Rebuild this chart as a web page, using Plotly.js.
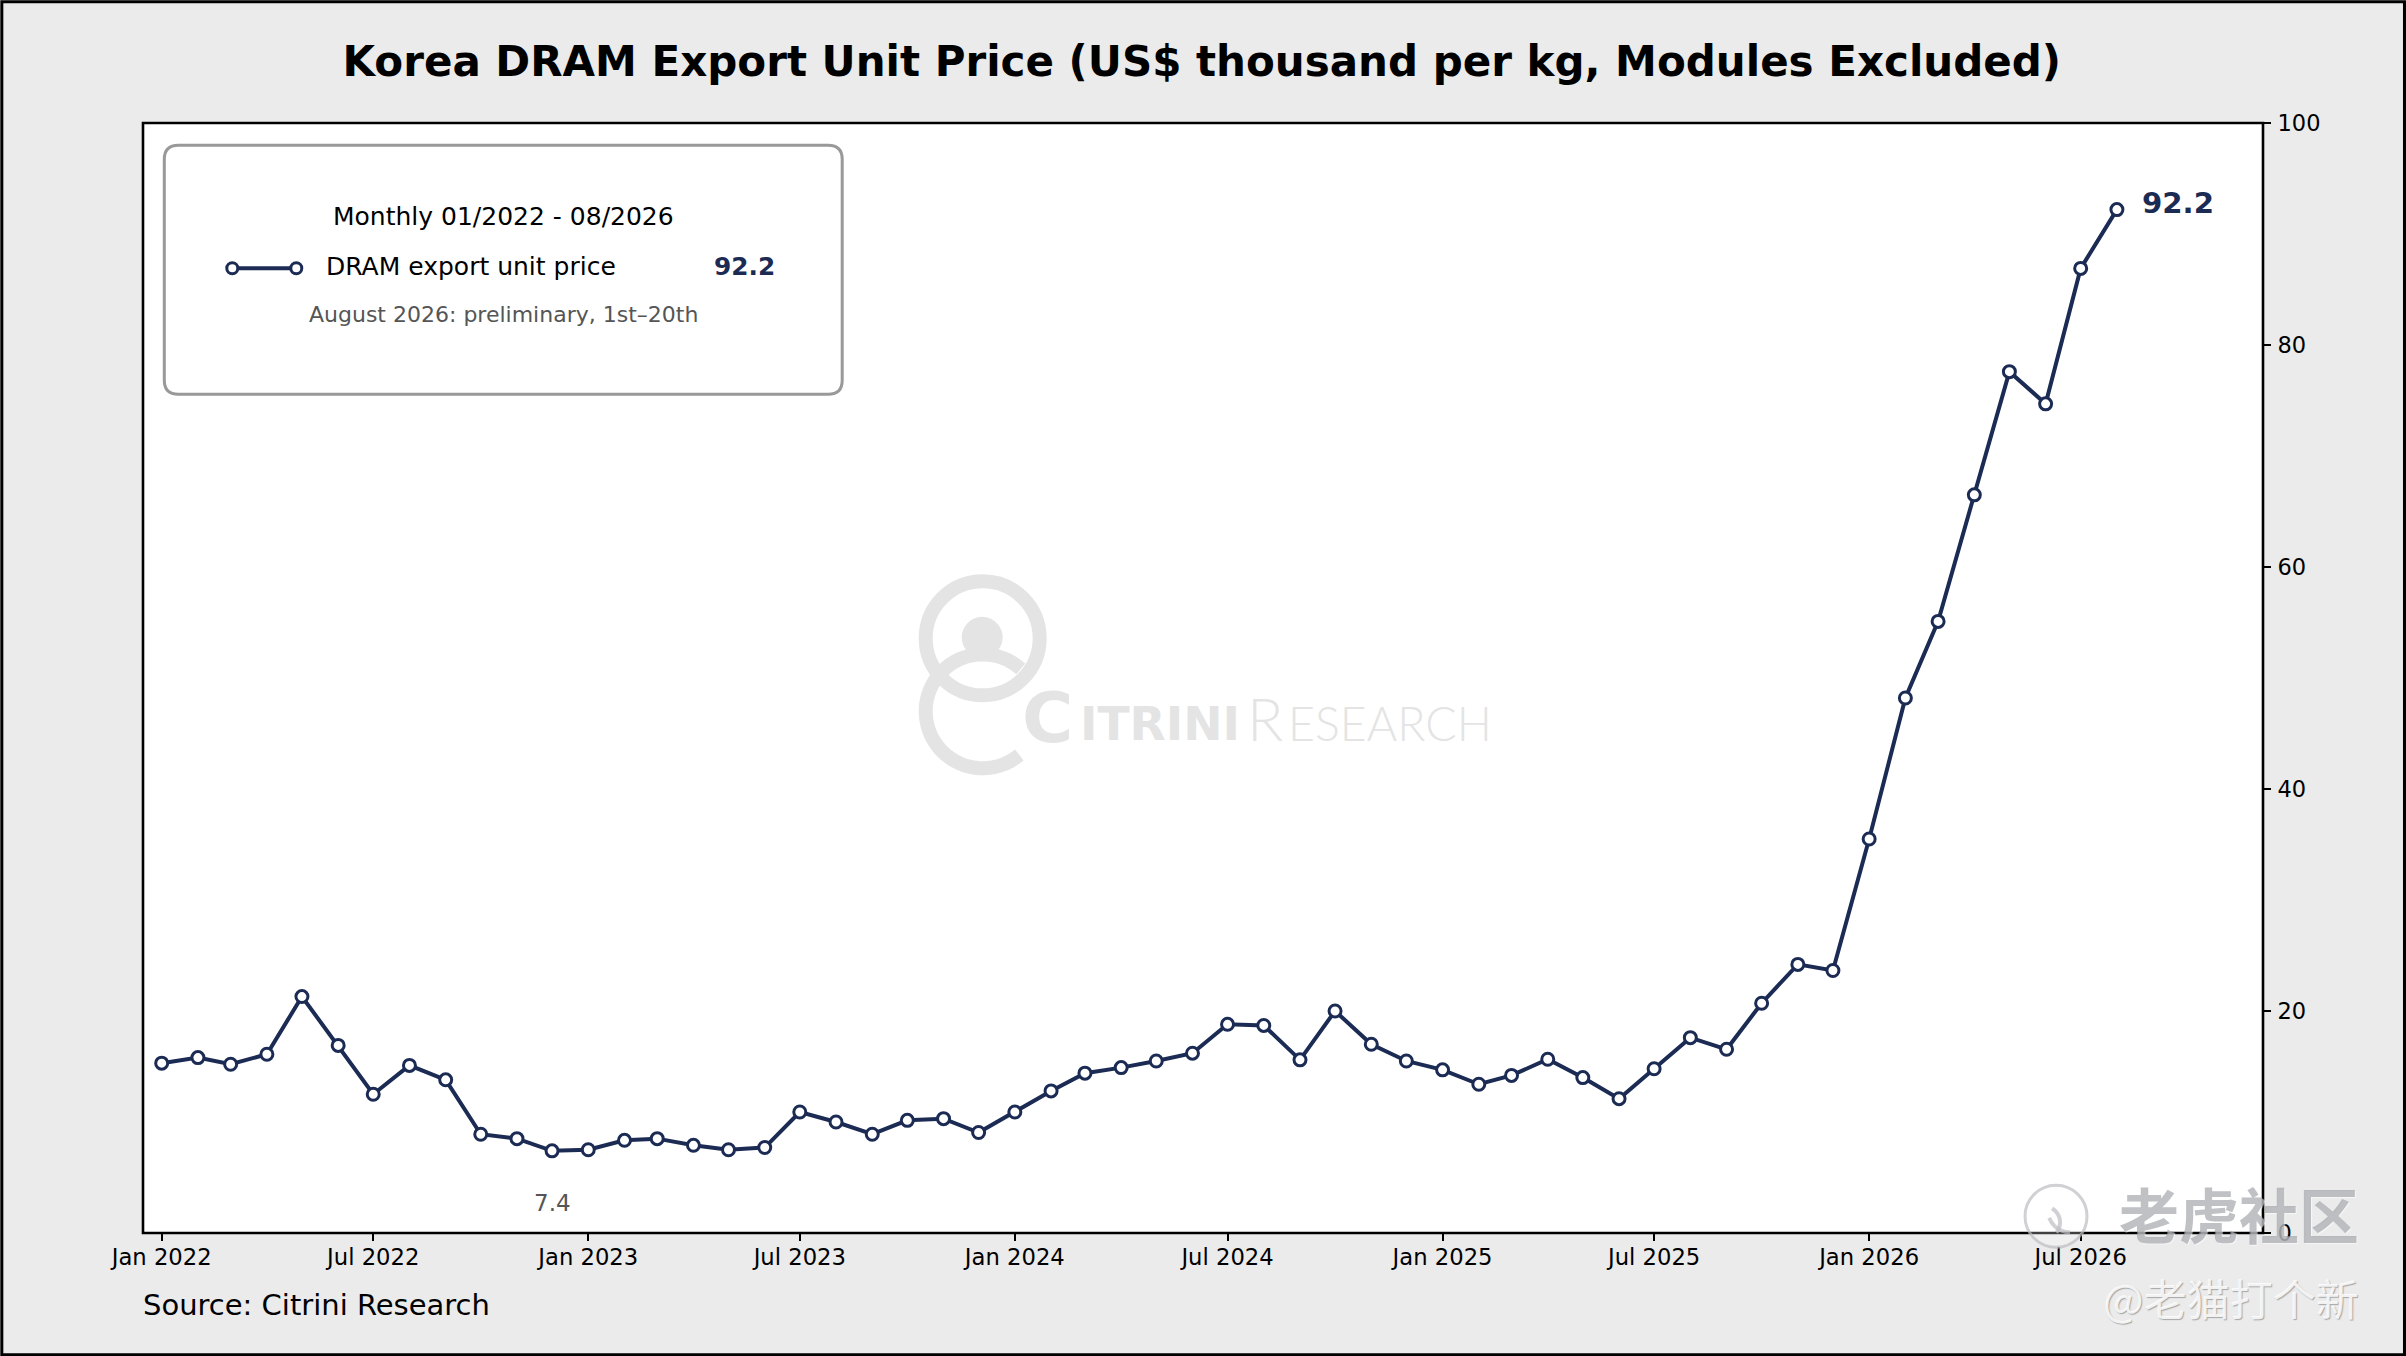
<!DOCTYPE html>
<html>
<head>
<meta charset="utf-8">
<script src="https://cdn.plot.ly/plotly-3.0.1.min.js"></script>
<style>
  html, body { margin: 0; padding: 0; background: #ebebeb; }
  #chartdiv { width: 2406px; height: 1356px; }
</style>
</head>
<body>
<div id="chartdiv"></div>
<script>
const months = [
  '2022-01-01','2022-02-01','2022-03-01','2022-04-01','2022-05-01','2022-06-01',
  '2022-07-01','2022-08-01','2022-09-01','2022-10-01','2022-11-01','2022-12-01',
  '2023-01-01','2023-02-01','2023-03-01','2023-04-01','2023-05-01','2023-06-01',
  '2023-07-01','2023-08-01','2023-09-01','2023-10-01','2023-11-01','2023-12-01',
  '2024-01-01','2024-02-01','2024-03-01','2024-04-01','2024-05-01','2024-06-01',
  '2024-07-01','2024-08-01','2024-09-01','2024-10-01','2024-11-01','2024-12-01',
  '2025-01-01','2025-02-01','2025-03-01','2025-04-01','2025-05-01','2025-06-01',
  '2025-07-01','2025-08-01','2025-09-01','2025-10-01','2025-11-01','2025-12-01',
  '2026-01-01','2026-02-01','2026-03-01','2026-04-01','2026-05-01','2026-06-01',
  '2026-07-01','2026-08-01'
];
const unitPrice = [
  15.3, 15.8, 15.2, 16.1, 21.3, 16.9, 12.5, 15.1, 13.8, 8.9, 8.5, 7.4,
  7.5, 8.35, 8.5, 7.9, 7.5, 7.7, 10.9, 10.0, 8.9, 10.15, 10.3, 9.05,
  10.9, 12.8, 14.4, 14.9, 15.5, 16.2, 18.8, 18.7, 15.6, 20.0, 17.0, 15.5,
  14.7, 13.4, 14.2, 15.65, 14.0, 12.1, 14.8, 17.6, 16.55, 20.7, 24.2, 23.65,
  35.5, 48.2, 55.1, 66.5, 77.6, 74.7, 86.9, 92.2
];
const yTicks = [0, 20, 40, 60, 80, 100];

const navy = '#1b2b54';
const grey = '#555555';
const wm = '#e4e4e4';
const font = 'DejaVu Sans';

// plot box in page pixels, the rest of the furniture is placed from these
const L = 142.7, R = 2263, T = 122.7, B = 1232.7;
const px = x => (x - L) / (R - L);
const py = y => (B - y) / (B - T);

function note(x, y, text, size, color, anchor, extra) {
  return Object.assign({
    xref: 'paper', yref: 'paper', x: px(x), y: py(y), text: text, showarrow: false,
    xanchor: anchor || 'center', yanchor: 'middle',
    font: {family: font, size: size, color: color}
  }, extra || {});
}

function arc(cx, cy, r, from, to) {
  // polyline arc, angles in degrees
  let d = '';
  for (let i = 0; i <= 48; i++) {
    const a = (from + (to - from) * i / 48) * Math.PI / 180;
    d += (i ? 'L' : 'M') + px(cx + r * Math.cos(a)).toFixed(5) + ',' + py(cy + r * Math.sin(a)).toFixed(5);
  }
  return d;
}
function pathShape(d, color, width, fill, layer) {
  return {type: 'path', xref: 'paper', yref: 'paper', path: d, layer: layer || 'below',
    line: {color: color, width: width}, fillcolor: fill || 'rgba(0,0,0,0)'};
}
function rounded(x0, y0, x1, y1, r) {
  const X0 = px(x0), X1 = px(x1), Y0 = py(y0), Y1 = py(y1), rx = r / (R - L), ry = r / (B - T);
  return `M${X0 + rx},${Y0} L${X1 - rx},${Y0} Q${X1},${Y0} ${X1},${Y0 - ry} L${X1},${Y1 + ry} Q${X1},${Y1} ${X1 - rx},${Y1} L${X0 + rx},${Y1} Q${X0},${Y1} ${X0},${Y1 + ry} L${X0},${Y0 - ry} Q${X0},${Y0} ${X0 + rx},${Y0} Z`;
}
function circle(cx, cy, r, lineColor, width, fill, layer) {
  return {type: 'circle', xref: 'paper', yref: 'paper', layer: layer || 'below',
    x0: px(cx - r), x1: px(cx + r), y0: py(cy + r), y1: py(cy - r),
    line: {color: lineColor, width: width}, fillcolor: fill};
}

const shapes = [
  // figure frame
  {type: 'rect', xref: 'paper', yref: 'paper', layer: 'below',
    x0: px(1.5), x1: px(2404.5), y0: py(1354.5), y1: py(1.5),
    line: {color: '#000', width: 3}, fillcolor: 'rgba(0,0,0,0)'},
  // axes box, centred on the ticks
  {type: 'rect', xref: 'paper', yref: 'paper', layer: 'above', x0: 0, x1: 1, y0: 0, y1: 1,
    line: {color: '#000', width: 2.6}, fillcolor: 'rgba(0,0,0,0)'},
  // legend box
  pathShape(rounded(164, 145, 842, 394, 14), '#999999', 3, '#ffffff'),
  {type: 'line', xref: 'paper', yref: 'paper', x0: px(232), x1: px(296), y0: py(268), y1: py(268),
    line: {color: navy, width: 4}},
  circle(232, 268, 5.5, navy, 3, '#ffffff', 'above'),
  circle(296, 268, 5.5, navy, 3, '#ffffff', 'above'),
  // citrini logo
  circle(982.5, 638, 57, wm, 14, 'rgba(0,0,0,0)'),
  circle(982, 637, 20, wm, 1, wm),
  pathShape(arc(982.5, 711, 57, -48, -310), wm, 14),
  // community watermark badge
  circle(2056, 1216, 31, 'rgba(190,190,195,0.7)', 3, 'rgba(255,255,255,0.25)', 'above'),
  pathShape(arc(2070, 1210, 22, 90, 160), 'rgba(190,190,195,0.7)', 4, null, 'above'),
  pathShape(arc(2044, 1222, 16, -60, 40), 'rgba(190,190,195,0.7)', 4, null, 'above')
];

const annotations = [
  // end labels
  {x: months[55], y: unitPrice[55], xref: 'x', yref: 'y', text: '<b>92.2</b>', showarrow: false,
    xanchor: 'left', yanchor: 'middle', xshift: 23, yshift: 7,
    font: {family: font, size: 29.2, color: navy}},
  {x: months[11], y: unitPrice[11], xref: 'x', yref: 'y', text: '7.4', showarrow: false,
    xanchor: 'center', yanchor: 'middle', yshift: -52,
    font: {family: font, size: 23, color: grey}},
  // legend text
  note(503.5, 216, 'Monthly 01/2022 - 08/2026', 25, '#000'),
  note(324, 266, 'DRAM export unit price', 25, '#000', 'left'),
  note(744, 266, '<b>92.2</b>', 24.8, navy),
  note(503, 314.5, 'August 2026: preliminary, 1st–20th', 22, grey),
  // source
  note(141, 1305, 'Source: Citrini Research', 29, '#000', 'left'),
  // citrini wordmark
  note(1047, 718, '<b>C</b>', 70, wm),
  note(1160, 723, '<b>ITRINI</b>', 47, wm),
  {xref: 'paper', yref: 'paper', x: px(1265), y: py(718), text: 'R', showarrow: false,
    xanchor: 'center', yanchor: 'middle',
    font: {family: 'Lato', size: 60, color: wm, weight: 300}},
  {xref: 'paper', yref: 'paper', x: px(1390), y: py(723), text: 'ESEARCH', showarrow: false,
    xanchor: 'center', yanchor: 'middle',
    font: {family: 'Lato', size: 46.5, color: wm, weight: 300}},
  // community watermarks
  {xref: 'paper', yref: 'paper', x: px(2239), y: py(1212), text: '老虎社区', showarrow: false,
    xanchor: 'center', yanchor: 'middle', font: {family: 'Noto Sans CJK SC', size: 60, weight: 700,
      color: 'rgba(150,152,158,0.6)', shadow: '1px 1px 1px #ffffff'}},
  {xref: 'paper', yref: 'paper', x: px(2231), y: py(1297), text: '@老猫打个新', showarrow: false,
    xanchor: 'center', yanchor: 'middle', font: {family: 'Noto Sans CJK SC', size: 43,
      color: 'rgba(255,255,255,0.85)', shadow: '1px 1px 1px #9a9a9a'}}
];

const data = [{
  x: months,
  y: unitPrice,
  name: 'DRAM export unit price',
  type: 'scatter',
  mode: 'lines+markers',
  line: {color: navy, width: 4},
  marker: {size: 12, color: '#ffffff', line: {color: navy, width: 3}},
  cliponaxis: false,
  hoverinfo: 'x+y'
}];

const layout = {
  width: 2406,
  height: 1356,
  paper_bgcolor: '#ebebeb',
  plot_bgcolor: '#ffffff',
  showlegend: false,
  margin: {l: L, r: 2406 - R, t: T, b: 1356 - B, pad: 0},
  font: {family: font, color: '#000'},
  title: {
    text: '<b>Korea DRAM Export Unit Price (US$ thousand per kg, Modules Excluded)</b>',
    font: {family: font, size: 42, color: '#000'},
    x: 0.4995, xanchor: 'center', xref: 'container',
    y: 0.9545, yanchor: 'middle', yref: 'container'
  },
  xaxis: {
    type: 'date',
    range: ['2021-12-16', '2026-12-04'],
    tick0: '2022-01-01',
    dtick: 'M6',
    tickformat: '%b %Y',
    ticks: 'outside', ticklen: 7, tickwidth: 2, tickcolor: '#000',
    ticklabelstandoff: -3,
    tickfont: {family: font, size: 22.7, color: '#000'},
    showgrid: false, zeroline: false, showline: false
  },
  yaxis: {
    side: 'right',
    range: [0, 100],
    tickvals: yTicks,
    ticks: 'outside', ticklen: 7, tickwidth: 2, tickcolor: '#000',
    ticklabelstandoff: 2,
    tickfont: {family: font, size: 22.5, color: '#000'},
    showgrid: false, zeroline: false, showline: false
  },
  shapes: shapes,
  annotations: annotations
};

Plotly.newPlot('chartdiv', data, layout, {displayModeBar: false, responsive: false});
</script>
</body>
</html>
